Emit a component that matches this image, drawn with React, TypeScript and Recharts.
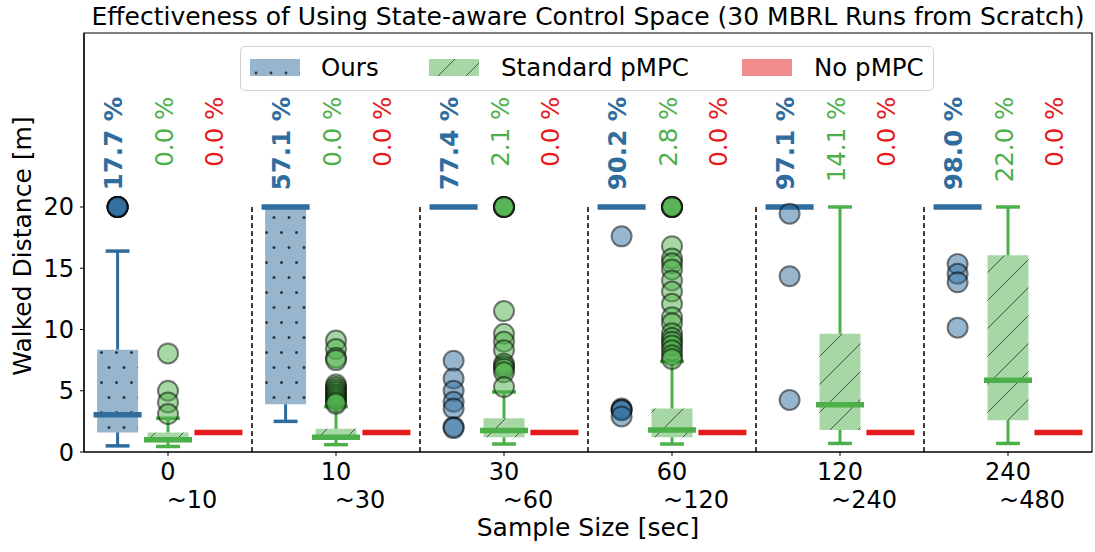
import React from "react";
import {
  ComposedChart,
  Legend,
  ReferenceArea,
  ReferenceLine,
  Scatter,
  XAxis,
  YAxis,
} from "recharts";

const groupTicks = ["0", "10", "30", "60", "120", "240"];
const rangeTicks = ["~10", "~30", "~60", "~120", "~240", "~480"];
const yTicks = [0, 5, 10, 15, 20];

// [low whisker, q1, median, q3, high whisker]
const oursBoxes = [
  [0.5, 1.6, 3.05, 8.35, 16.4],
  [2.5, 3.9, 20, 20, 20],
  [20, 20, 20, 20, 20],
  [20, 20, 20, 20, 20],
  [20, 20, 20, 20, 20],
  [20, 20, 20, 20, 20],
];
const pmpcBoxes = [
  [0.45, 0.8, 1.0, 1.6, 2.75],
  [0.6, 1.0, 1.2, 1.9, 3.7],
  [0.65, 1.2, 1.75, 2.75, 4.9],
  [0.65, 1.2, 1.8, 3.55, 7.4],
  [0.7, 1.8, 3.85, 9.65, 20],
  [0.7, 2.6, 5.85, 16.05, 20],
];
const noPmpcBoxes = [
  [1.6, 1.6, 1.6, 1.6, 1.6],
  [1.6, 1.6, 1.6, 1.6, 1.6],
  [1.6, 1.6, 1.6, 1.6, 1.6],
  [1.6, 1.6, 1.6, 1.6, 1.6],
  [1.6, 1.6, 1.6, 1.6, 1.6],
  [1.6, 1.6, 1.6, 1.6, 1.6],
];

const oursFliers = [
  [20, 20, 20, 20, 20, 20],
  [],
  [7.45, 6.0, 5.0, 4.1, 3.55, 2.05, 1.95],
  [17.6, 3.55, 3.45, 3.4, 2.9],
  [19.45, 14.35, 4.25],
  [15.35, 14.55, 13.85, 10.15],
];
const pmpcFliers = [
  [8.05, 5.0, 4.05, 3.1],
  [9.1, 8.4, 7.7, 7.5, 5.5, 5.3, 5.1, 4.9, 4.7, 4.5, 4.3, 4.1, 3.95],
  [20, 20, 20, 20, 11.5, 9.65, 9.0, 8.3, 7.2, 7.0, 6.8, 6.5, 5.3],
  [20, 20, 20, 20, 16.8, 15.8, 15.4, 14.9, 14.0, 13.1, 12.1, 11.0, 10.5, 9.7, 9.3, 9.0, 8.7, 8.3, 7.9, 7.6],
  [],
  [],
];
const noPmpcFliers = [[], [], [], [], [], []];

const oursPct = [17.7, 57.1, 77.4, 90.2, 97.1, 98.0];
const pmpcPct = [0.0, 0.0, 2.1, 2.8, 14.1, 22.0];
const noPmpcPct = [0.0, 0.0, 0.0, 0.0, 0.0, 0.0];

const BLUE = "#2f6d9e";
const GREEN = "#4daf4a";
const RED = "#e41a1c";
const FONT = "'DejaVu Sans', sans-serif";

const series = [
  { name: "Ours", boxes: oursBoxes, fliers: oursFliers, pct: oursPct, color: BLUE, fill: "url(#dots)", offset: -0.3, bold: true },
  { name: "Standard pMPC", boxes: pmpcBoxes, fliers: pmpcFliers, pct: pmpcPct, color: GREEN, fill: "url(#hatch)", offset: 0, bold: false },
  { name: "No pMPC", boxes: noPmpcBoxes, fliers: noPmpcFliers, pct: noPmpcPct, color: RED, fill: "rgba(228,26,28,0.5)", offset: 0.3, bold: false },
];

const BOX_HALF = 0.122;
const MED_HALF = 0.143;
const CAP_HALF = 0.071;

function XTick({ x, y, payload }: any) {
  const i = payload.value;
  return (
    <g>
      <text x={x} y={y + 22} textAnchor="middle" fontSize={24} fill="#000" fontFamily={FONT}>
        {groupTicks[i]}
      </text>
      <text x={x + 24} y={y + 50} textAnchor="middle" fontSize={24} fill="#000" fontFamily={FONT}>
        {rangeTicks[i]}
      </text>
    </g>
  );
}

function Flier({ cx, cy, fill }: any) {
  if (cx == null || cy == null) return null;
  return <circle cx={cx} cy={cy} r={10} fill={fill} fillOpacity={0.5} stroke="#000" strokeOpacity={0.5} strokeWidth={2} />;
}

function PctLabel({ cx, cy, payload }: any) {
  if (cx == null || cy == null) return null;
  return (
    <text
      x={cx}
      y={cy}
      dy={4.8}
      transform={`rotate(-90, ${cx}, ${cy})`}
      textAnchor="end"
      fontSize={24.5}
      fontWeight={payload.bold ? "bold" : "normal"}
      fill={payload.color}
      fontFamily={FONT}
    >
      {`${payload.pct.toFixed(1)} %`}
    </text>
  );
}

function LegendPatch({ kind }: { kind: string }) {
  return (
    <svg width={50} height={17} style={{ display: "block" }}>
      <defs>
        <pattern id="dotsLegend" patternUnits="userSpaceOnUse" width={15} height={30} x={3}>
          <rect width={15} height={30} fill={BLUE} fillOpacity={0.5} />
          <circle cx={3} cy={14} r={1.4} fill="#333" />
          <circle cx={10.5} cy={29} r={1.4} fill="#333" />
        </pattern>
        <pattern id="hatchLegend" patternUnits="userSpaceOnUse" width={28} height={28} x={4} y={-6}>
          <rect width={28} height={28} fill={GREEN} fillOpacity={0.5} />
          <path d="M0,28 L28,0 M-7,7 L7,-7 M21,35 L35,21" stroke="#333" strokeWidth={1} strokeOpacity={0.8} />
        </pattern>
      </defs>
      {kind === "Ours" && <rect width={50} height={17} fill="url(#dotsLegend)" />}
      {kind === "Standard pMPC" && <rect width={50} height={17} fill="url(#hatchLegend)" />}
      {kind === "No pMPC" && <rect width={50} height={17} fill="rgba(228,26,28,0.5)" />}
    </svg>
  );
}

function LegendBox() {
  const items = [
    { name: "Ours", patch: 9, text: 80 },
    { name: "Standard pMPC", patch: 188, text: 260 },
    { name: "No pMPC", patch: 501, text: 573 },
  ];
  return (
    <div
      style={{
        position: "relative",
        boxSizing: "border-box",
        width: 694,
        height: 45,
        border: "1px solid #d3d3d3",
        borderRadius: 5,
        background: "rgba(255,255,255,0.8)",
        fontFamily: FONT,
        fontSize: 24.5,
        color: "#000",
      }}
    >
      {items.map((it) => (
        <React.Fragment key={it.name}>
          <div style={{ position: "absolute", left: it.patch, top: 12 }}>
            <LegendPatch kind={it.name} />
          </div>
          <span style={{ position: "absolute", left: it.text, top: 6, lineHeight: "30px", whiteSpace: "nowrap" }}>{it.name}</span>
        </React.Fragment>
      ))}
    </div>
  );
}

export default function App() {
  const marks: React.ReactNode[] = [];
  const flierData: Array<{ x: number; y: number }>[] = [];
  const pctData: any[] = [];

  series.forEach((s, si) => {
    const pts: Array<{ x: number; y: number }> = [];
    s.boxes.forEach((b, g) => {
      const cx = g + s.offset;
      const [lo, q1, med, q3, hi] = b;
      if (q3 > q1) {
        marks.push(
          <ReferenceArea key={`box-${si}-${g}`} x1={cx - BOX_HALF} x2={cx + BOX_HALF} y1={q1} y2={q3} fill={s.fill} fillOpacity={1} stroke="none" ifOverflow="visible" />,
        );
      }
      if (hi > q3) {
        marks.push(
          <ReferenceLine key={`wh-${si}-${g}`} segment={[{ x: cx, y: q3 }, { x: cx, y: hi }]} stroke={s.color} strokeWidth={3} ifOverflow="visible" />,
        );
      }
      if (q1 > lo) {
        marks.push(
          <ReferenceLine key={`wl-${si}-${g}`} segment={[{ x: cx, y: lo }, { x: cx, y: q1 }]} stroke={s.color} strokeWidth={3} ifOverflow="visible" />,
        );
      }
      if (hi > med || lo < med) {
        marks.push(
          <ReferenceLine key={`ch-${si}-${g}`} segment={[{ x: cx - CAP_HALF, y: hi }, { x: cx + CAP_HALF, y: hi }]} stroke={s.color} strokeWidth={3.5} ifOverflow="visible" />,
          <ReferenceLine key={`cl-${si}-${g}`} segment={[{ x: cx - CAP_HALF, y: lo }, { x: cx + CAP_HALF, y: lo }]} stroke={s.color} strokeWidth={3.5} ifOverflow="visible" />,
        );
      }
      marks.push(
        <ReferenceLine key={`md-${si}-${g}`} segment={[{ x: cx - MED_HALF, y: med }, { x: cx + MED_HALF, y: med }]} stroke={s.color} strokeWidth={5.5} ifOverflow="visible" />,
      );
      s.fliers[g].forEach((v) => pts.push({ x: cx, y: v }));
      pctData.push({ x: cx, y: 29, pct: s.pct[g], color: s.color, bold: s.bold });
    });
    flierData.push(pts);
  });

  const separators = [0.5, 1.5, 2.5, 3.5, 4.5];

  return (
    <div style={{ position: "absolute", left: 0, top: 0, width: 1095, height: 552, fontFamily: FONT, background: "#fff" }}>
      <div
        style={{
          position: "absolute",
          left: 88,
          top: 2,
          width: 1000,
          textAlign: "center",
          fontSize: 25,
          lineHeight: "29px",
          color: "#000",
          whiteSpace: "nowrap",
        }}
      >
        Effectiveness of Using State-aware Control Space (30 MBRL Runs from Scratch)
      </div>
      <ComposedChart width={1095} height={552} margin={{ top: 33, right: 3, bottom: 0, left: 0 }}>
        <defs>
          <pattern id="dots" patternUnits="userSpaceOnUse" width={15} height={30}>
            <rect width={15} height={30} fill={BLUE} fillOpacity={0.5} />
            <circle cx={4} cy={7.5} r={1.5} fill="#333" />
            <circle cx={11.5} cy={22.5} r={1.5} fill="#333" />
          </pattern>
          <pattern id="hatch" patternUnits="userSpaceOnUse" width={28} height={28}>
            <rect width={28} height={28} fill={GREEN} fillOpacity={0.5} />
            <path d="M0,28 L28,0 M-7,7 L7,-7 M21,35 L35,21" stroke="#333" strokeWidth={1} strokeOpacity={0.8} />
          </pattern>
        </defs>
        <XAxis
          dataKey="x"
          type="number"
          domain={[-0.5, 5.5]}
          ticks={[0, 1, 2, 3, 4, 5]}
          interval={0}
          allowDataOverflow
          height={100}
          tickSize={4}
          tickMargin={2}
          tick={<XTick />}
          axisLine={{ stroke: "#000", strokeWidth: 1.2 }}
          tickLine={{ stroke: "#000" }}
          label={{
            content: () => (
              <text x={588} y={536} textAnchor="middle" fontSize={25} fill="#000" fontFamily={FONT}>
                Sample Size [sec]
              </text>
            ),
          }}
        />
        <YAxis
          type="number"
          domain={[0, 34.2]}
          ticks={yTicks}
          interval={0}
          allowDataOverflow
          width={84}
          tickSize={4}
          tickMargin={6}
          tick={{ fontSize: 24, fill: "#000", fontFamily: FONT }}
          axisLine={{ stroke: "#000", strokeWidth: 1.2 }}
          tickLine={{ stroke: "#000" }}
          label={{
            content: () => (
              <text x={31} y={246} transform="rotate(-90, 31, 246)" textAnchor="middle" fontSize={25} fill="#000" fontFamily={FONT}>
                Walked Distance [m]
              </text>
            ),
          }}
        />
        <ReferenceArea x1={-0.5} x2={5.5} y1={0} y2={34.2} fill="none" stroke="#000" strokeWidth={1.2} ifOverflow="visible" />
        {separators.map((sx) => (
          <ReferenceLine
            key={`sep-${sx}`}
            segment={[{ x: sx, y: 0 }, { x: sx, y: 20 }]}
            stroke="#000"
            strokeWidth={1.5}
            strokeDasharray="5 3"
            ifOverflow="visible"
          />
        ))}
        {marks}
        {series.map((s, si) => (
          <Scatter
            key={`fl-${s.name}`}
            name={s.name}
            data={flierData[si]}
            dataKey="y"
            isAnimationActive={false}
            shape={(p: any) => <Flier {...p} fill={s.color} />}
          />
        ))}
        <Scatter name="pct" data={pctData} dataKey="y" isAnimationActive={false} shape={(p: any) => <PctLabel {...p} />} />
        <Legend
          layout="horizontal"
          verticalAlign="middle"
          align="center"
          wrapperStyle={{ top: 46, left: 240, width: 694, height: 45 }}
          content={() => <LegendBox />}
        />
      </ComposedChart>
    </div>
  );
}
